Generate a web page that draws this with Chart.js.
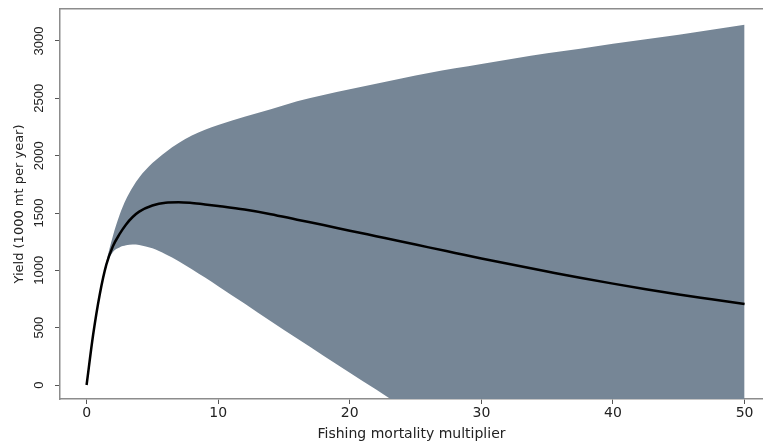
<!DOCTYPE html>
<html>
<head>
<meta charset="utf-8">
<script src="https://cdn.jsdelivr.net/npm/chart.js@4/dist/chart.umd.min.js"></script>
<style>
  html, body { margin: 0; padding: 0; background: #fff; }
  #wrap { width: 763px; height: 443px; }
</style>
</head>
<body>
<div id="wrap"><canvas id="c" width="763" height="443"></canvas></div>
<script>
// Fishing mortality multiplier values at which yield was evaluated
const multiplier = [0, 0.5, 1, 1.5, 2, 2.5, 3, 3.5, 4, 5, 6, 7, 8, 9, 10, 12, 14, 16, 18, 20,
  22, 24, 26, 28, 30, 32.5, 35, 37.5, 40, 42.5, 45, 47.5, 50];

// Median yield (1000 mt per year)
const yieldMedian = [0, 440, 790, 1050, 1210, 1315, 1400, 1465, 1512, 1565, 1590, 1594, 1587, 1575, 1561,
  1530, 1490, 1442, 1395, 1346, 1298, 1250, 1200, 1152, 1104, 1046, 990, 935, 884, 836, 790, 748, 706];

// Upper bound of the yield interval
const yieldUpper = [0, 450, 810, 1075, 1300, 1480, 1620, 1725, 1810, 1935, 2030, 2110, 2175, 2225, 2268,
  2340, 2405, 2475, 2530, 2580, 2628, 2676, 2720, 2762, 2800, 2848, 2893, 2933, 2975, 3015, 3055, 3098, 3142];

// Lower bound of the yield interval
const yieldLower = [0, 430, 770, 1040, 1160, 1200, 1218, 1226, 1222, 1192, 1140, 1080, 1010, 937, 862,
  710, 555, 405, 255, 108, -40, -190, -340, -490, -640, -825, -1010, -1195, -1380, -1565, -1750, -1935, -2120];

// Axis tick labels
const xTicks = [0, 10, 20, 30, 40, 50];
const yTicks = [0, 500, 1000, 1500, 2000, 2500, 3000];

const pts = (ys) => multiplier.map((x, i) => ({ x: x, y: ys[i] }));

const BAND = 'rgb(118,134,150)';
const FRAME = '#8c8c8c';
const TEXT = '#222';
const SANS = '"Liberation Sans", Arial, sans-serif';
const WIDE = '"DejaVu Sans", sans-serif';

new Chart(document.getElementById('c'), {
  type: 'line',
  data: {
    datasets: [
      {
        label: 'Lower',
        data: pts(yieldLower),
        borderWidth: 0,
        pointRadius: 0,
        fill: false,
        order: 1,
        cubicInterpolationMode: 'monotone'
      },
      {
        label: 'Upper',
        data: pts(yieldUpper),
        borderWidth: 0,
        pointRadius: 0,
        backgroundColor: BAND,
        fill: '-1',
        order: 1,
        cubicInterpolationMode: 'monotone'
      },
      {
        label: 'Median',
        data: pts(yieldMedian),
        borderColor: '#000',
        borderWidth: 2.5,
        pointRadius: 0,
        fill: false,
        order: 0,
        cubicInterpolationMode: 'monotone'
      }
    ]
  },
  options: {
    responsive: false,
    animation: false,
    devicePixelRatio: 1,
    layout: { padding: 0 },
    plugins: { legend: { display: false }, tooltip: { enabled: false } },
    scales: {
      x: {
        type: 'linear',
        position: 'bottom',
        min: -2.02,
        max: 51.4,
        afterBuildTicks: (s) => { s.ticks = xTicks.map(v => ({ value: v })); },
        afterFit: (s) => { s.height = 44; },
        ticks: { color: TEXT, font: { family: WIDE, size: 14 }, padding: 1, maxRotation: 0,
                 callback: (v) => String(v) },
        grid: { display: true, drawOnChartArea: false, drawTicks: true, tickLength: 5, color: '#555' },
        border: { display: true, color: FRAME, width: 1.5 },
        title: {
          display: true,
          text: 'Fishing mortality multiplier',
          color: TEXT,
          font: { family: WIDE, size: 14 },
          padding: { top: 0, bottom: 0 }
        }
      },
      xTop: {
        type: 'linear',
        position: 'top',
        min: -2.02,
        max: 51.4,
        afterFit: (s) => { s.height = 9; },
        ticks: { display: false },
        grid: { display: false },
        border: { display: true, color: FRAME, width: 1.5 }
      },
      y: {
        type: 'linear',
        min: -122,
        max: 3279,
        afterBuildTicks: (s) => { s.ticks = yTicks.map(v => ({ value: v })); },
        afterFit: (s) => { s.width = 60; },
        ticks: { color: TEXT, font: { family: SANS, size: 13 }, minRotation: 90, maxRotation: 90,
                 crossAlign: 'center', padding: 1, callback: (v) => String(v) },
        grid: { display: true, drawOnChartArea: false, drawTicks: true, tickLength: 5, color: '#555' },
        border: { display: true, color: FRAME, width: 1.5 },
        title: {
          display: true,
          text: 'Yield (1000 mt per year)',
          color: TEXT,
          font: { family: WIDE, size: 13 },
          padding: { top: 12, bottom: 0 }
        }
      }
    }
  }
});
</script>
</body>
</html>
